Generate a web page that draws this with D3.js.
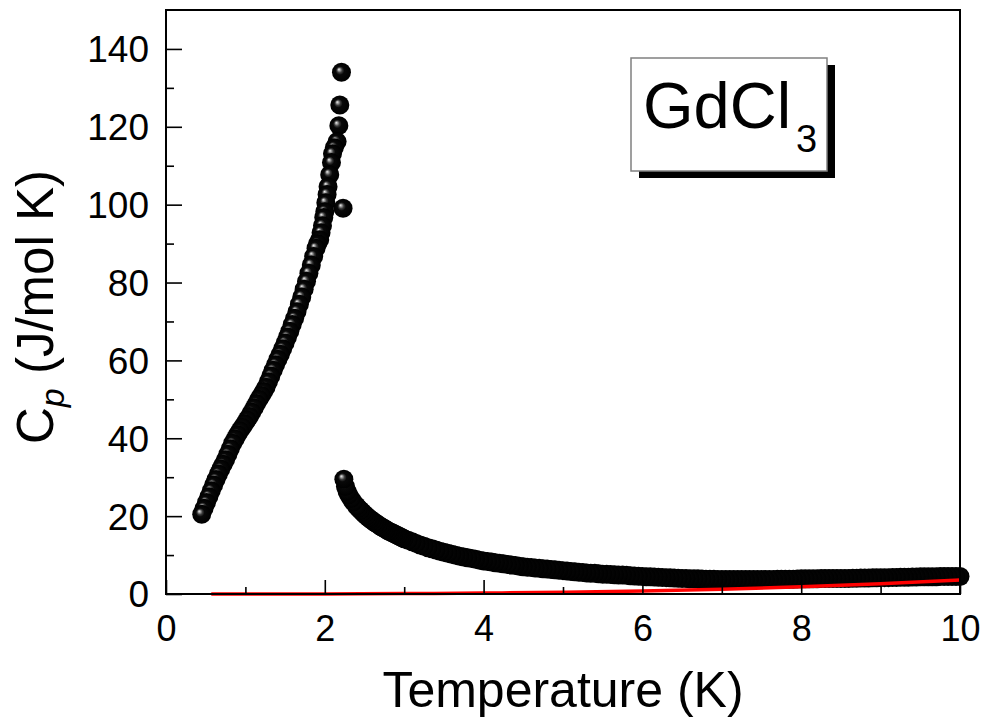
<!DOCTYPE html>
<html>
<head>
<meta charset="utf-8">
<script src="https://cdn.jsdelivr.net/npm/d3@7"></script>
<style>
  html, body { margin: 0; padding: 0; background: #fff; }
  svg { display: block; font-family: "Liberation Sans", Arial, sans-serif; }
</style>
</head>
<body>
<svg id="chart" width="984" height="719"></svg>
<script>
// Measured heat capacity of GdCl3 below the transition: temperature (K), Cp (J/mol K)
const lowT = [
  0.45,0.48,0.51,0.54,0.57,0.60,0.63,0.66,0.69,0.72,0.75,0.78,0.81,0.84,0.87,0.90,
  0.93,0.96,0.99,1.02,1.05,1.08,1.11,1.14,1.17,1.20,1.23,1.26,1.29,1.32,1.35,1.38,
  1.41,1.44,1.47,1.50,1.53,1.56,1.59,1.62,1.65,1.68,1.71,1.74,1.77,1.80,1.83,1.86,
  1.89,1.91,1.936,1.953,1.971,1.987,2.000,2.013,2.029,2.041,2.062,2.084,2.097,2.12,
  2.155,2.177,2.189,2.210,2.23
];
const lowCp = [
  20.5,22.0,23.5,25.0,26.5,28.0,29.4,30.8,32.1,33.3,34.5,35.9,37.3,38.7,39.8,40.9,
  41.9,42.8,43.7,44.7,45.6,46.7,47.8,48.9,50.0,51.0,52.0,53.1,54.5,56.0,57.5,58.9,
  60.3,61.6,63.0,64.5,66.0,67.5,69.2,70.8,72.5,74.4,76.3,78.3,80.3,82.4,84.5,86.7,
  88.8,90.0,91.0,92.8,94.6,96.7,98.2,100.5,102.6,104.6,107.7,110.8,113.1,114.6,
  116.2,120.3,125.6,134.0,99.1
];

// Measured heat capacity above the transition
const highT = [
  2.24,2.26,2.28,2.30,2.33,2.36,2.40,2.425,2.45,2.475,2.50,2.525,2.55,2.575,2.60,
  2.625,2.65,2.675,2.70,2.725,2.75,2.775,2.80,2.825,2.85,2.875,2.90,2.925,2.95,2.975,
  3.00,3.05,3.10,3.15,3.20,3.25,3.30,3.35,3.40,3.45,
  3.50,3.55,3.60,3.65,3.70,3.75,3.80,3.85,3.90,3.95,
  4.00,4.05,4.10,4.15,4.20,4.25,4.30,4.35,4.40,4.45,
  4.50,4.55,4.60,4.65,4.70,4.75,4.80,4.85,4.90,4.95,
  5.00,5.05,5.10,5.15,5.20,5.25,5.30,5.35,5.40,5.45,
  5.50,5.55,5.60,5.65,5.70,5.75,5.80,5.85,5.90,5.95,
  6.00,6.05,6.10,6.15,6.20,6.25,6.30,6.35,6.40,6.45,
  6.50,6.55,6.60,6.65,6.70,6.75,6.80,6.85,6.90,6.95,
  7.00,7.05,7.10,7.15,7.20,7.25,7.30,7.35,7.40,7.45,
  7.50,7.55,7.60,7.65,7.70,7.75,7.80,7.85,7.90,7.95,
  8.00,8.05,8.10,8.15,8.20,8.25,8.30,8.35,8.40,8.45,
  8.50,8.55,8.60,8.65,8.70,8.75,8.80,8.85,8.90,8.95,
  9.00,9.05,9.10,9.15,9.20,9.25,9.30,9.35,9.40,9.45,
  9.50,9.55,9.60,9.65,9.70,9.75,9.80,9.85,9.90,9.95,
  10.00
];
const highCp = [
  29.5,27.6,26.4,25.5,24.5,23.6,22.6,22.0,21.5,21.0,20.5,20.05,19.6,19.2,18.8,
  18.45,18.1,17.75,17.4,17.1,16.8,16.5,16.2,15.95,15.7,15.45,15.2,14.95,14.7,14.45,
  14.2,13.8,13.4,13.0,12.6,12.25,11.9,11.6,11.3,11.0,
  10.7,10.45,10.2,9.95,9.7,9.5,9.3,9.1,8.9,8.7,
  8.5,8.35,8.2,8.05,7.9,7.75,7.6,7.45,7.3,7.15,
  7.0,6.9,6.8,6.7,6.6,6.5,6.4,6.3,6.2,6.1,
  6.0,5.9,5.8,5.7,5.6,5.5,5.4,5.35,5.3,5.2,
  5.1,5.05,5.0,4.95,4.9,4.85,4.8,4.7,4.6,4.55,
  4.5,4.45,4.4,4.35,4.3,4.25,4.2,4.15,4.1,4.05,
  4.0,3.95,3.9,3.9,3.9,3.85,3.8,3.8,3.8,3.75,
  3.7,3.7,3.7,3.7,3.7,3.7,3.7,3.7,3.7,3.7,
  3.7,3.7,3.7,3.75,3.8,3.8,3.8,3.8,3.8,3.85,
  3.9,3.9,3.9,3.9,3.9,3.95,3.95,3.95,3.95,4.0,
  4.0,4.0,4.0,4.05,4.05,4.1,4.1,4.1,4.15,4.15,
  4.2,4.2,4.2,4.25,4.25,4.3,4.3,4.3,4.35,4.35,
  4.4,4.4,4.4,4.45,4.45,4.5,4.5,4.5,4.5,4.5,
  4.5
];

// Lattice (phonon) contribution, red line
const latticeT  = [0.57, 1, 2, 3, 4, 5, 6, 7, 8, 9, 10];
const latticeCp = [0.0, 0.0, 0.03, 0.1, 0.23, 0.45, 0.78, 1.23, 1.84, 2.62, 3.6];

// Axis ticks
const xMajorTicks = [0, 2, 4, 6, 8, 10];
const xMinorTicks = [1, 3, 5, 7, 9];
const yMajorTicks = [0, 20, 40, 60, 80, 100, 120, 140];
const yMinorTicks = [10, 30, 50, 70, 90, 110, 130];

const svg = d3.select("#chart");
const plotLeft = 166, plotRight = 960, plotTop = 10, plotBottom = 594;

const x = d3.scaleLinear().domain([0, 10]).range([plotLeft, plotRight]);
const y = d3.scaleLinear().domain([0, 150]).range([plotBottom, plotTop]);

// Shaded sphere marker: black ball with a small highlight at upper left
const defs = svg.append("defs");
const grad = defs.append("radialGradient").attr("id", "sphere")
  .attr("cx", "50%").attr("cy", "50%").attr("r", "50%")
  .attr("fx", "36%").attr("fy", "34%");
grad.append("stop").attr("offset", "0%").attr("stop-color", "#f0f0f0");
grad.append("stop").attr("offset", "12%").attr("stop-color", "#a4a4a4");
grad.append("stop").attr("offset", "28%").attr("stop-color", "#3c3c3c");
grad.append("stop").attr("offset", "45%").attr("stop-color", "#080808");
grad.append("stop").attr("offset", "100%").attr("stop-color", "#000");

// Data points (drawn from high T to low T so the low-T side stays on top)
const pts = lowT.map((t, i) => ({ t, cp: lowCp[i] }))
  .concat(highT.map((t, i) => ({ t, cp: highCp[i] })))
  .reverse();
svg.append("g").selectAll("circle").data(pts).join("circle")
  .attr("cx", d => x(d.t))
  .attr("cy", d => y(d.cp))
  .attr("r", 9.5)
  .attr("fill", "url(#sphere)");

// Lattice contribution line
const line = d3.line().x((d, i) => x(latticeT[i])).y(d => y(d)).curve(d3.curveMonotoneX);
svg.append("path").datum(latticeCp)
  .attr("d", line)
  .attr("fill", "none")
  .attr("stroke", "#ff0000")
  .attr("stroke-width", 3.5);

// Axes with inward ticks
const styleAxis = g => {
  g.select(".domain").remove();
  g.selectAll(".tick line").attr("stroke", "#000").attr("stroke-width", 1.6);
  g.selectAll("text").attr("fill", "#000");
};

svg.append("g").attr("transform", `translate(0,${plotBottom})`)
  .call(d3.axisBottom(x).tickValues(xMajorTicks).tickSize(-14).tickPadding(21)
    .tickFormat(d3.format("d")))
  .call(styleAxis)
  .call(g => g.selectAll("text").attr("font-size", 36));

svg.append("g").attr("transform", `translate(0,${plotBottom})`)
  .call(d3.axisBottom(x).tickValues(xMinorTicks).tickSize(-7).tickFormat(""))
  .call(styleAxis);

svg.append("g").attr("transform", `translate(${plotLeft},0)`)
  .call(d3.axisLeft(y).tickValues(yMajorTicks).tickSize(-16).tickPadding(17)
    .tickFormat(d3.format("d")))
  .call(styleAxis)
  .call(g => g.selectAll("text").attr("font-size", 37).attr("dy", "0.35em"));

svg.append("g").attr("transform", `translate(${plotLeft},0)`)
  .call(d3.axisLeft(y).tickValues(yMinorTicks).tickSize(-8).tickFormat(""))
  .call(styleAxis);

// Plot frame
svg.append("rect")
  .attr("x", plotLeft).attr("y", plotTop)
  .attr("width", plotRight - plotLeft).attr("height", plotBottom - plotTop)
  .attr("fill", "none").attr("stroke", "#000").attr("stroke-width", 2);

// Axis titles
svg.append("text")
  .attr("x", (plotLeft + plotRight) / 2).attr("y", 707)
  .attr("text-anchor", "middle").attr("font-size", 50)
  .text("Temperature (K)");

const yTitle = svg.append("text")
  .attr("transform", `translate(53,${(plotTop + plotBottom) / 2 + 5}) rotate(-90)`)
  .attr("text-anchor", "middle").attr("font-size", 51);
yTitle.append("tspan").text("C");
yTitle.append("tspan").attr("font-size", 34).attr("font-style", "italic")
  .attr("dy", 11).text("p");
yTitle.append("tspan").attr("dy", -11).text(" (J/mol K)");

// Compound label box with drop shadow
const box = { x: 631, y: 58, w: 196, h: 113 };
svg.append("rect").attr("x", box.x + 8).attr("y", box.y + 7)
  .attr("width", box.w).attr("height", box.h).attr("fill", "#000");
svg.append("rect").attr("x", box.x).attr("y", box.y)
  .attr("width", box.w).attr("height", box.h)
  .attr("fill", "#fff").attr("stroke", "#808080").attr("stroke-width", 1.5);
const lbl = svg.append("text").attr("x", 643).attr("y", 128).attr("font-size", 65);
lbl.append("tspan").text("GdCl");
lbl.append("tspan").attr("font-size", 38).attr("x", 796).attr("y", 152).text("3");
</script>
</body>
</html>
